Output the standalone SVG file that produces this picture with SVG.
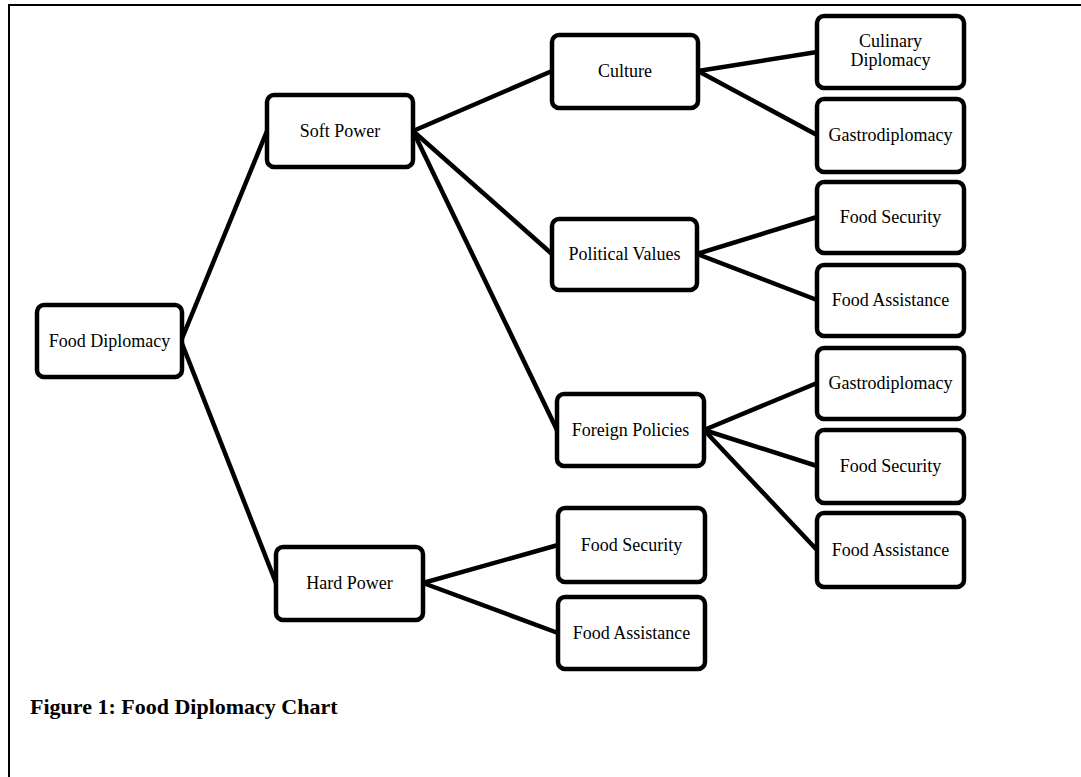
<svg xmlns="http://www.w3.org/2000/svg" width="1081" height="777" viewBox="0 0 1081 777">
<style>
.box{fill:#fff;stroke:#000;stroke-width:4.5}
.lbl{font-family:"Liberation Serif","Times New Roman",serif;font-size:18px;fill:#000;text-anchor:middle}
.cap{font-family:"Liberation Serif","Times New Roman",serif;font-size:22px;font-weight:bold;fill:#000}
.con line{stroke:#000;stroke-width:4.5}
</style>
<rect width="1081" height="777" fill="#fff"/>
<path d="M9 777V5H1081" fill="none" stroke="#000" stroke-width="2"/>
<g id="connectors" class="con">
<line x1="181" y1="341" x2="267" y2="131"/>
<line x1="181" y1="341" x2="276" y2="583"/>
<line x1="413" y1="131" x2="552" y2="71"/>
<line x1="413" y1="131" x2="552" y2="254"/>
<line x1="413" y1="131" x2="557" y2="430"/>
<line x1="698" y1="71" x2="817" y2="52"/>
<line x1="698" y1="71" x2="817" y2="135"/>
<line x1="697" y1="254" x2="817" y2="217"/>
<line x1="697" y1="254" x2="817" y2="300"/>
<line x1="704" y1="430" x2="817" y2="383"/>
<line x1="704" y1="430" x2="817" y2="466"/>
<line x1="704" y1="430" x2="817" y2="550"/>
<line x1="423" y1="583" x2="558" y2="545"/>
<line x1="423" y1="583" x2="558" y2="633"/>
</g>
<g id="food-diplomacy"><rect class="box" x="37" y="305" width="145" height="72" rx="7"/><text class="lbl" x="109.5" y="347">Food Diplomacy</text></g>
<g id="soft-power"><rect class="box" x="267" y="95" width="146" height="72" rx="7"/><text class="lbl" x="340" y="137">Soft Power</text></g>
<g id="hard-power"><rect class="box" x="276" y="547" width="147" height="73" rx="7"/><text class="lbl" x="349.5" y="589">Hard Power</text></g>
<g id="culture"><rect class="box" x="552" y="35" width="146" height="73" rx="7"/><text class="lbl" x="625" y="77">Culture</text></g>
<g id="political-values"><rect class="box" x="552" y="219" width="145" height="71" rx="7"/><text class="lbl" x="624.5" y="260">Political Values</text></g>
<g id="foreign-policies"><rect class="box" x="557" y="394" width="147" height="72" rx="7"/><text class="lbl" x="630.5" y="436">Foreign Policies</text></g>
<g id="hp-food-security"><rect class="box" x="558" y="508" width="147" height="74" rx="7"/><text class="lbl" x="631.5" y="551">Food Security</text></g>
<g id="hp-food-assistance"><rect class="box" x="558" y="597" width="147" height="72" rx="7"/><text class="lbl" x="631.5" y="639">Food Assistance</text></g>
<g id="culinary-diplomacy"><rect class="box" x="817" y="16" width="147" height="72" rx="7"/><text class="lbl" x="890.5" y="47">Culinary</text><text class="lbl" x="890.5" y="66">Diplomacy</text></g>
<g id="cu-gastrodiplomacy"><rect class="box" x="817" y="99" width="147" height="73" rx="7"/><text class="lbl" x="890.5" y="141">Gastrodiplomacy</text></g>
<g id="pv-food-security"><rect class="box" x="817" y="182" width="147" height="71" rx="7"/><text class="lbl" x="890.5" y="223">Food Security</text></g>
<g id="pv-food-assistance"><rect class="box" x="817" y="265" width="147" height="71" rx="7"/><text class="lbl" x="890.5" y="306">Food Assistance</text></g>
<g id="fp-gastrodiplomacy"><rect class="box" x="817" y="348" width="147" height="71" rx="7"/><text class="lbl" x="890.5" y="389">Gastrodiplomacy</text></g>
<g id="fp-food-security"><rect class="box" x="817" y="430" width="147" height="73" rx="7"/><text class="lbl" x="890.5" y="472">Food Security</text></g>
<g id="fp-food-assistance"><rect class="box" x="817" y="513" width="147" height="74" rx="7"/><text class="lbl" x="890.5" y="556">Food Assistance</text></g>
<text class="cap" x="30" y="714">Figure 1: Food Diplomacy Chart</text>
</svg>
